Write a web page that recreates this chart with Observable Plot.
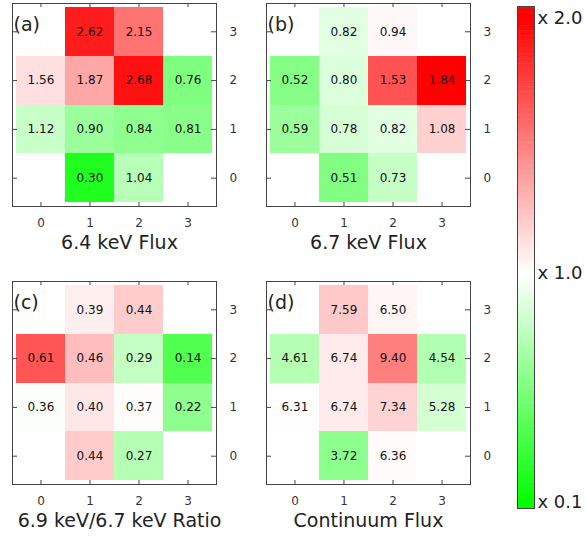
<!DOCTYPE html>
<html><head><meta charset="utf-8">
<script src="https://cdn.jsdelivr.net/npm/d3@7"></script>
<script src="https://cdn.jsdelivr.net/npm/@observablehq/plot@0.6"></script>
<style>
body{margin:0;background:#fff;font-family:"DejaVu Sans",sans-serif;}
#chart{position:relative;width:586px;height:541px;overflow:hidden;}
.panel{position:absolute;}
</style></head><body><div id="chart"></div>
<script>
// Grid cell positions (same for all four panels)
const cellCol = [1, 2, 0, 1, 2, 3, 0, 1, 2, 3, 1, 2];
const cellRow = [3, 3, 2, 2, 2, 2, 1, 1, 1, 1, 0, 0];
// Panel values
const flux64 = [2.62, 2.15, 1.56, 1.87, 2.68, 0.76, 1.12, 0.90, 0.84, 0.81, 0.30, 1.04];
const flux67 = [0.82, 0.94, 0.52, 0.80, 1.53, 1.84, 0.59, 0.78, 0.82, 1.08, 0.51, 0.73];
const ratio6967 = [0.39, 0.44, 0.61, 0.46, 0.29, 0.14, 0.36, 0.40, 0.37, 0.22, 0.44, 0.27];
const contFlux = [7.59, 6.50, 4.61, 6.74, 9.40, 4.54, 6.31, 6.74, 7.34, 5.28, 3.72, 6.36];
const panelLetters = ["(a)", "(b)", "(c)", "(d)"];
const panelTitles = ["6.4 keV Flux", "6.7 keV Flux", "6.9 keV/6.7 keV Ratio", "Continuum Flux"];
const gridTicks = [0, 1, 2, 3];
const colorbarTicks = [0.1, 1.0, 2.0];

const colorScale = {type: "linear", domain: [0.1, 1, 2], range: ["#00ff00", "#ffffff", "#ff0000"], clamp: true};
const font = "DejaVu Sans";

const panels = [
  {letter: panelLetters[0], title: panelTitles[0], values: flux64, left: 0, top: 0, dx: 5},
  {letter: panelLetters[1], title: panelTitles[1], values: flux67, left: 254, top: 0, dx: 0},
  {letter: panelLetters[2], title: panelTitles[2], values: ratio6967, left: 0, top: 278, dx: 5},
  {letter: panelLetters[3], title: panelTitles[3], values: contFlux, left: 254, top: 278, dx: 0}
];

const chart = document.getElementById("chart");

for (const p of panels) {
  const mean = d3.mean(p.values);
  const data = p.values.map((v, i) => ({col: cellCol[i], row: cellRow[i], value: v, rel: v / mean}));
  const svg = Plot.plot({
    width: 250, height: 260,
    marginLeft: 12, marginRight: 34, marginTop: 3, marginBottom: 54,
    style: {fontFamily: font, background: "transparent", overflow: "visible"},
    x: {domain: [-0.58, 3.58], label: null},
    y: {domain: [-0.58, 3.58], label: null},
    color: colorScale,
    marks: [
      Plot.rect(data, {x1: d => d.col - 0.5, x2: d => d.col + 0.5, y1: d => d.row - 0.5, y2: d => d.row + 0.5, fill: "rel", shapeRendering: "crispEdges"}),
      Plot.text(data, {x: "col", y: "row", text: d => d.value.toFixed(2), fontSize: 12, fill: "#111"}),
      Plot.tickX(gridTicks, {x: d => d, insetTop: 199, stroke: "#444"}),
      Plot.tickX(gridTicks, {x: d => d, insetBottom: 199, stroke: "#444"}),
      Plot.tickY(gridTicks, {y: d => d, insetRight: 199, stroke: "#444"}),
      Plot.tickY(gridTicks, {y: d => d, insetLeft: 199, stroke: "#444"}),
      Plot.axisX(gridTicks, {anchor: "bottom", tickSize: 0, tickPadding: 12, fontSize: 12, fill: "#333", label: null}),
      Plot.axisY(gridTicks, {anchor: "right", tickSize: 0, tickPadding: 13, fontSize: 12, fill: "#333", label: null}),
      Plot.frame({stroke: "#444"}),
      Plot.text([p.letter], {text: d => d, frameAnchor: "top-left", dx: 1, dy: 14, fontSize: 19, textAnchor: "start", fill: "#222"}),
      Plot.text([p.title], {text: d => d, frameAnchor: "bottom", dy: 42, dx: p.dx, fontSize: 19, fill: "#222"})
    ]
  });
  const div = document.createElement("div");
  div.className = "panel";
  div.style.left = p.left + "px";
  div.style.top = p.top + "px";
  div.appendChild(svg);
  chart.appendChild(div);
}

// Colour bar (legend ramp)
const rampStops = d3.range(0.07, 2.06, 0.01);
const bar = Plot.plot({
  width: 86, height: 541,
  marginLeft: 17, marginRight: 52, marginTop: 6, marginBottom: 33,
  style: {fontFamily: font, background: "transparent", overflow: "visible"},
  x: {domain: [0, 1], axis: null},
  y: {type: "linear", domain: [0.1, 2], range: [502, 18], label: null},
  color: colorScale,
  marks: [
    Plot.rect(rampStops, {x1: () => 0, x2: () => 1, y1: d => d, y2: d => d + 0.012, fill: d => d + 0.005, clip: "frame"}),
    Plot.frame({stroke: "#444"}),
    Plot.axisY(colorbarTicks, {anchor: "right", tickSize: 0, tickPadding: 3, fontSize: 18, fill: "#222", tickFormat: d => "x " + d.toFixed(1), label: null})
  ]
});
const bdiv = document.createElement("div");
bdiv.className = "panel";
bdiv.style.left = "500px";
bdiv.style.top = "0px";
bdiv.appendChild(bar);
chart.appendChild(bdiv);
</script>
</body></html>
